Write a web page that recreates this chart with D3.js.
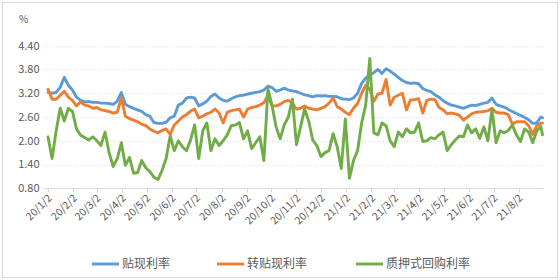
<!DOCTYPE html>
<html><head><meta charset="utf-8">
<script src="https://cdn.jsdelivr.net/npm/d3@7"></script>
<style>
html,body{margin:0;padding:0;background:#fff;}
svg{display:block;}
text{font-family:"Noto Sans CJK SC","Noto Sans",sans-serif;fill:#595959;}
</style></head>
<body><svg id="c" width="560" height="280"></svg>
<script>
const dates = ["2020-01-02","2020-01-07","2020-01-12","2020-01-17","2020-01-22","2020-01-27","2020-02-01","2020-02-06","2020-02-11","2020-02-16",
"2020-02-21","2020-02-26","2020-03-02","2020-03-07","2020-03-12","2020-03-17","2020-03-22","2020-03-27","2020-04-01","2020-04-06",
"2020-04-11","2020-04-16","2020-04-21","2020-04-26","2020-05-01","2020-05-06","2020-05-11","2020-05-16","2020-05-21","2020-05-26",
"2020-05-31","2020-06-05","2020-06-10","2020-06-15","2020-06-20","2020-06-25","2020-06-30","2020-07-05","2020-07-10","2020-07-15",
"2020-07-20","2020-07-25","2020-07-30","2020-08-04","2020-08-09","2020-08-14","2020-08-19","2020-08-24","2020-08-29","2020-09-03",
"2020-09-08","2020-09-13","2020-09-18","2020-09-23","2020-09-28","2020-10-03","2020-10-08","2020-10-13","2020-10-18","2020-10-23",
"2020-10-28","2020-11-02","2020-11-07","2020-11-12","2020-11-17","2020-11-22","2020-11-27","2020-12-02","2020-12-07","2020-12-12",
"2020-12-17","2020-12-22","2020-12-27","2021-01-01","2021-01-06","2021-01-11","2021-01-16","2021-01-21","2021-01-26","2021-01-31",
"2021-02-05","2021-02-10","2021-02-15","2021-02-20","2021-02-25","2021-03-02","2021-03-07","2021-03-12","2021-03-17","2021-03-22",
"2021-03-27","2021-04-01","2021-04-06","2021-04-11","2021-04-16","2021-04-21","2021-04-26","2021-05-01","2021-05-06","2021-05-11",
"2021-05-16","2021-05-21","2021-05-26","2021-05-31","2021-06-05","2021-06-10","2021-06-15","2021-06-20","2021-06-25","2021-06-30",
"2021-07-05","2021-07-10","2021-07-15","2021-07-20","2021-07-25","2021-07-30","2021-08-04","2021-08-09","2021-08-14","2021-08-19",
"2021-08-24","2021-08-29","2021-08-31"];

const discountRate = [3.22,3.20,3.22,3.35,3.60,3.40,3.28,3.10,3.02,2.98,
2.99,2.97,2.97,2.95,2.95,2.94,2.92,3.00,3.22,2.92,
2.86,2.82,2.78,2.74,2.66,2.62,2.46,2.44,2.44,2.47,
2.58,2.62,2.90,2.95,3.08,3.10,3.08,2.88,2.93,3.00,
3.12,3.18,3.08,3.02,3.00,3.06,3.11,3.14,3.15,3.18,
3.20,3.22,3.24,3.28,3.38,3.34,3.25,3.28,3.33,3.28,
3.26,3.24,3.20,3.16,3.14,3.11,3.14,3.13,3.14,3.12,
3.12,3.11,3.06,3.05,3.04,3.08,3.20,3.45,3.58,3.66,
3.72,3.80,3.70,3.82,3.76,3.68,3.60,3.52,3.47,3.45,
3.46,3.44,3.32,3.27,3.24,3.16,3.10,3.01,2.95,2.90,
2.88,2.85,2.82,2.86,2.90,2.89,2.92,2.95,2.97,3.08,
2.92,2.88,2.85,2.79,2.74,2.69,2.64,2.59,2.53,2.44,
2.45,2.60,2.58];

const rediscountRate = [3.30,3.05,3.05,3.15,3.25,3.10,3.02,2.88,2.98,2.90,
2.88,2.82,2.84,2.78,2.76,2.74,2.70,2.72,3.08,2.62,
2.56,2.52,2.48,2.42,2.38,2.30,2.24,2.20,2.26,2.30,
2.16,2.40,2.50,2.60,2.66,2.75,2.80,2.58,2.62,2.68,
2.72,2.80,2.70,2.45,2.72,2.76,2.78,2.80,2.60,2.80,
2.84,2.86,2.90,2.96,3.15,2.88,2.88,2.92,2.99,3.02,
2.95,2.80,2.82,2.88,2.82,2.80,2.78,2.82,2.86,2.95,
3.08,2.86,2.80,2.72,2.66,2.82,2.94,3.20,3.40,3.30,
3.00,3.18,3.20,3.55,2.90,3.10,3.15,3.20,2.78,3.03,
3.04,3.06,2.70,3.02,3.05,3.04,2.84,2.78,2.68,2.70,
2.68,2.64,2.52,2.60,2.68,2.72,2.73,2.74,2.76,2.82,
2.72,2.70,2.70,2.66,2.42,2.48,2.48,2.48,2.38,2.16,
2.38,2.44,2.45];

const repoRate = [2.10,1.55,2.25,2.82,2.50,2.82,2.74,2.30,2.14,2.08,
2.02,2.10,2.00,1.88,2.22,1.70,1.35,1.55,1.95,1.38,
1.58,1.18,1.20,1.50,1.32,1.22,1.08,1.02,1.25,1.55,
2.12,1.75,2.00,1.85,1.75,2.02,2.40,1.55,2.25,2.45,
1.75,2.05,1.88,2.00,2.15,2.38,2.40,2.46,2.05,2.25,
1.80,1.95,2.10,1.50,3.30,2.90,2.35,2.05,2.40,2.60,
3.05,1.90,2.35,2.80,2.50,2.02,1.88,1.60,1.70,1.75,
2.18,1.85,1.30,2.55,1.05,1.50,1.75,2.45,2.90,4.08,
2.20,2.15,2.45,2.38,2.00,1.85,2.22,2.10,2.30,2.20,
2.22,2.45,1.98,2.00,2.08,2.05,2.15,2.22,1.75,1.90,
2.02,2.12,2.10,2.40,2.20,2.30,2.06,2.35,2.00,2.80,
1.95,2.25,2.20,2.26,2.40,2.15,1.98,2.30,2.22,1.95,
2.25,2.36,2.15];

const seriesNames = ["贴现利率","转贴现利率","质押式回购利率"];
const seriesColors = ["#5B9BD5","#ED7D31","#70AD47"];
const yTicks = [0.80,1.40,2.00,2.60,3.20,3.80,4.40];
const xTickLabels = ["20/1/2","20/2/2","20/3/2","20/4/2","20/5/2","20/6/2","20/7/2","20/8/2","20/9/2","20/10/2",
"20/11/2","20/12/2","21/1/2","21/2/2","21/3/2","21/4/2","21/5/2","21/6/2","21/7/2","21/8/2"];
const yUnit = "%";

const parseISO = d3.timeParse("%Y-%m-%d");
const parseTick = s => { const p = s.split("/").map(Number); return new Date(2000 + p[0], p[1]-1, p[2]); };

const svg = d3.select("#c");
svg.append("rect").attr("x",2.5).attr("y",2.5).attr("width",555).attr("height",275)
  .attr("fill","#fff").attr("stroke","#d9d9d9").attr("stroke-width",1);

const x = d3.scaleTime().domain([new Date(2020,0,2), new Date(2021,8,1)]).range([48, 543.3]);
const y = d3.scaleLinear().domain([0.8, 4.4]).range([188.3, 45.7]);
const plotL = 44, plotR = 543.3;

// gridlines
svg.append("g").selectAll("line").data(yTicks.slice(1)).join("line")
  .attr("x1",plotL).attr("x2",plotR)
  .attr("y1",d=>Math.round(y(d))+0.5).attr("y2",d=>Math.round(y(d))+0.5)
  .attr("stroke","#d9d9d9").attr("stroke-width",1).attr("stroke-dasharray","1,2");

// y labels
svg.append("g").selectAll("text").data(yTicks).join("text")
  .attr("x",39.5).attr("y",d=>y(d)).attr("dy","0.35em").attr("text-anchor","end")
  .style("font-size","11px").text(d=>d.toFixed(2));
svg.append("text").attr("x",19).attr("y",23).style("font-size","10px").text(yUnit);

// x axis
const tickDates = xTickLabels.map(parseTick);
const ax = svg.append("g").attr("transform",`translate(0,${Math.round(y(0.8))+0.5})`);
ax.append("line").attr("x1",plotL).attr("x2",plotR).attr("stroke","#d9d9d9");
ax.selectAll("line.t").data(tickDates).join("line").attr("class","t")
  .attr("x1",d=>Math.round(x(d))+0.5).attr("x2",d=>Math.round(x(d))+0.5)
  .attr("y1",0).attr("y2",4).attr("stroke","#d9d9d9");
svg.append("g").selectAll("text").data(xTickLabels).join("text")
  .attr("transform",(d,i)=>`translate(${x(tickDates[i])+2},${196}) rotate(-45)`)
  .attr("text-anchor","end").attr("dy","0.35em")
  .style("font-size","10.5px").text(d=>d);

// lines
const allSeries = [discountRate, rediscountRate, repoRate];
const parsed = dates.map(parseISO);
const line = d3.line().x((d,i)=>x(parsed[i])).y(d=>y(d)).curve(d3.curveLinear);
allSeries.forEach((s,k)=>{
  svg.append("path").datum(s).attr("d",line).attr("fill","none")
    .attr("stroke",seriesColors[k]).attr("stroke-width",2.9)
    .attr("stroke-linejoin","round").attr("stroke-linecap","round");
});

// legend
const legX = [92, 217, 356];
const lg = svg.append("g");
seriesNames.forEach((n,k)=>{
  lg.append("line").attr("x1",legX[k]).attr("x2",legX[k]+27).attr("y1",264).attr("y2",264)
    .attr("stroke",seriesColors[k]).attr("stroke-width",2.9);
  lg.append("text").attr("x",legX[k]+30).attr("y",264).attr("dy","0.36em")
    .style("font-size","12px").text(n);
});
</script></body></html>
